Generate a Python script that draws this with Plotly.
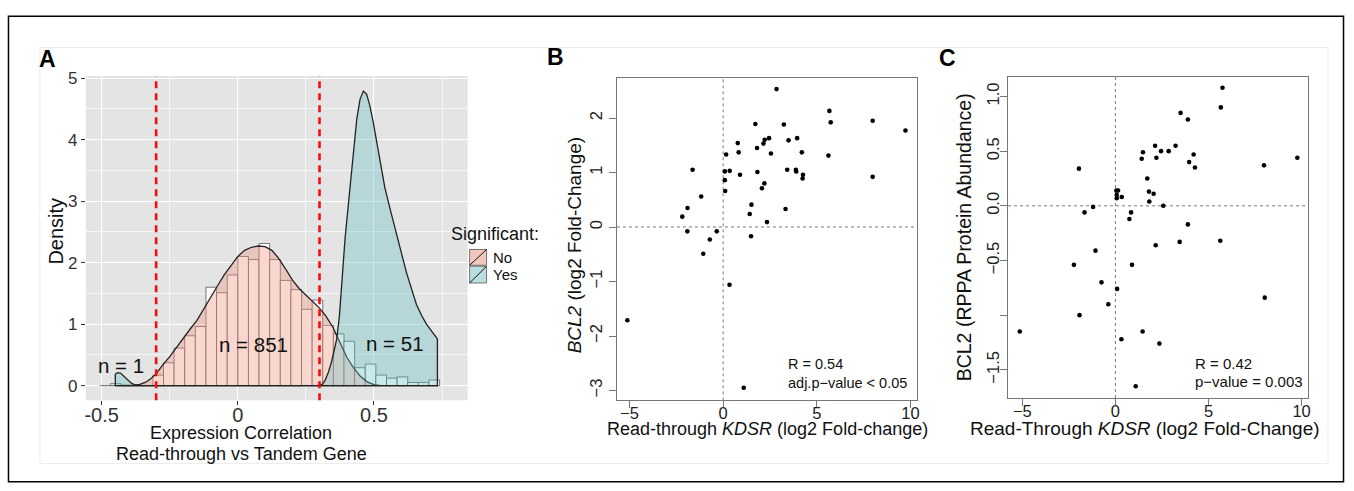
import plotly.graph_objects as go

W, H = 1354, 491
FONT = "Liberation Sans, Arial, sans-serif"

def fx(p):
    return p / W

def fy(p):
    return 1 - p / H

# ---------------- Panel A data ----------------
bin_left_edge = -0.468
bin_width = 0.039
hist_density = [0.03, 0, 0, 0, 0.17, 0.37, 0.61, 0.81, 0.96, 1.60, 1.51, 1.80, 2.10, 2.05,
                2.31, 2.05, 1.71, 1.56, 1.24, 1.39, 0.98, 0.84, 0.72, 0.29, 0.35, 0.17,
                0.12, 0.14, 0.05, 0.05, 0.09]
bin_centers = [bin_left_edge + bin_width * (k + 0.5) for k in range(len(hist_density))]

no_x = [-0.450, -0.400, -0.380, -0.360, -0.340, -0.320, -0.300, -0.275, -0.250, -0.225,
        -0.200, -0.175, -0.150, -0.125, -0.100, -0.075, -0.050, -0.025, 0.000, 0.025,
        0.050, 0.075, 0.100, 0.125, 0.150, 0.175, 0.200, 0.225, 0.250, 0.275, 0.300,
        0.325, 0.350, 0.375, 0.400, 0.425, 0.450, 0.475, 0.500, 0.525, 0.735]
no_y = [0.0, 0.0, 0.005, 0.02, 0.05, 0.11, 0.19, 0.34, 0.47, 0.62, 0.78, 0.92, 1.06,
        1.25, 1.45, 1.62, 1.80, 1.96, 2.10, 2.20, 2.25, 2.27, 2.26, 2.20, 2.07, 1.90,
        1.72, 1.58, 1.47, 1.37, 1.26, 1.12, 0.94, 0.70, 0.46, 0.29, 0.15, 0.06, 0.015,
        0.0, 0.0]

yes_x = [-0.450, -0.440, -0.430, -0.420, -0.410, -0.400, -0.390, -0.380, -0.370, -0.360,
         0.290, 0.300, 0.310, 0.320, 0.333, 0.345, 0.355, 0.363, 0.373, 0.382, 0.394,
         0.406, 0.418, 0.428, 0.437, 0.449, 0.461, 0.473, 0.485, 0.497, 0.510, 0.522,
         0.540, 0.559, 0.580, 0.600, 0.620, 0.638, 0.656, 0.675, 0.693, 0.711, 0.733]
yes_y = [0.19, 0.21, 0.20, 0.16, 0.11, 0.07, 0.035, 0.015, 0.004, 0.0,
         0.0, 0.004, 0.02, 0.08, 0.22, 0.40, 0.58, 0.75, 1.13, 1.67, 2.40,
         2.95, 3.50, 3.95, 4.34, 4.66, 4.79, 4.74, 4.55, 4.29, 3.97, 3.65,
         3.22, 2.88, 2.50, 2.17, 1.83, 1.56, 1.32, 1.14, 1.00, 0.89, 0.76]

cutoffs = [-0.3, 0.3]
n_labels = ["n = 1", "n = 851", "n = 51"]
n_label_x = [-0.43, 0.057, 0.577]
n_label_y = [0.32, 0.66, 0.68]

# ---------------- Panel B data ----------------
b_x = [2.85, 5.67, 5.74, 7.98, 9.73, 1.72, 3.24, 0.78, 0.83, 0.16, 1.81, 2.15, 2.22, 2.45,
       3.49, 3.95, 2.55, 4.20, 5.62, -1.63, 0.09, 0.35, 1.83, 3.42, 3.88, 3.90, 0.90, 4.26,
       4.24, 7.98, 0.09, 2.20, 2.07, 0.11, -1.17, 1.51, 1.42, 3.33, -1.90, -2.18, 2.34,
       -1.91, -0.34, 1.49, -0.71, -1.06, 0.34, -5.11, 1.10]
b_y = [2.53, 2.13, 1.92, 1.95, 1.77, 1.89, 1.88, 1.54, 1.37, 1.33, 1.45, 1.53, 1.60, 1.63,
       1.59, 1.63, 1.35, 1.37, 1.31, 1.05, 1.02, 1.03, 1.01, 1.05, 1.05, 1.02, 0.96, 0.96,
       0.89, 0.92, 0.86, 0.80, 0.71, 0.66, 0.56, 0.41, 0.24, 0.33, 0.35, 0.19, 0.09,
       -0.08, -0.08, -0.17, -0.23, -0.49, -1.06, -1.71, -2.95]

# ---------------- Panel C data ----------------
c_x = [5.75, 5.66, 3.50, 3.89, 2.13, 3.23, 1.48, 2.45, 2.86, 1.41, 2.20, 4.20, 3.96, 4.27,
       7.98, 9.77, -1.96, 1.71, 0.05, 0.14, 0.07, 0.34, 0.07, 1.80, 2.05, 1.82, 2.57,
       -1.20, -1.66, 0.84, 0.75, 3.89, 5.63, 2.16, 3.45, -1.07, -2.23, 0.89, -0.75, 0.09,
       8.02, -0.38, -1.93, -5.14, 1.46, 0.32, 2.36, 1.09]
c_y = [1.08, 0.90, 0.85, 0.79, 0.55, 0.55, 0.49, 0.50, 0.50, 0.43, 0.44, 0.47, 0.40, 0.35,
       0.37, 0.44, 0.34, 0.25, 0.14, 0.14, 0.10, 0.08, 0.07, 0.13, 0.11, 0.04, 0.00,
       -0.01, -0.06, -0.06, -0.12, -0.17, -0.32, -0.36, -0.33, -0.41, -0.54, -0.54, -0.70,
       -0.76, -0.84, -0.90, -1.00, -1.15, -1.15, -1.22, -1.26, -1.65]
c_yticks = [1.0, 0.5, 0.0, -0.5, -1.0, -1.5]
c_yticktext = ["1.0", "0.5", "0.0", "\u22120.5", "", "\u22121.5"]

fig = go.Figure()

# Panel A traces
fig.add_trace(go.Bar(
    x=bin_centers, y=hist_density, width=bin_width,
    marker=dict(color="white", line=dict(color="rgb(85,85,85)", width=0.8)),
    xaxis="x", yaxis="y", showlegend=False, hoverinfo="skip"))

fig.add_trace(go.Scatter(
    x=no_x + [no_x[-1], no_x[0], no_x[0]], y=no_y + [0, 0, no_y[0]],
    mode="lines", fill="toself", fillcolor="rgba(240,150,125,0.38)",
    line=dict(color="#222", width=1.3), xaxis="x", yaxis="y", showlegend=False))

fig.add_trace(go.Scatter(
    x=yes_x + [yes_x[-1], yes_x[0], yes_x[0]], y=yes_y + [0, 0, yes_y[0]],
    mode="lines", fill="toself", fillcolor="rgba(100,190,195,0.35)",
    line=dict(color="#222", width=1.3), xaxis="x", yaxis="y", showlegend=False))

# Panel B
fig.add_trace(go.Scatter(x=b_x, y=b_y, mode="markers",
                         marker=dict(color="black", size=4.6),
                         xaxis="x2", yaxis="y2", showlegend=False))
# Panel C
fig.add_trace(go.Scatter(x=c_x, y=c_y, mode="markers",
                         marker=dict(color="black", size=4.6),
                         xaxis="x3", yaxis="y3", showlegend=False))

tickfont_a_x = dict(family=FONT, size=20, color="#333")
tickfont_a_y = dict(family=FONT, size=17, color="#333")
tickfont_bc = dict(family=FONT, size=16.5, color="#222")

layout = dict(
    width=W, height=H,
    margin=dict(l=0, r=0, t=0, b=0, pad=0),
    paper_bgcolor="white", plot_bgcolor="rgba(0,0,0,0)",
    font=dict(family=FONT, color="#111"),
    showlegend=False,
    xaxis=dict(domain=[fx(85), fx(468)], range=[-0.5586, 0.844], anchor="y",
               tickmode="array", tickvals=[-0.5, 0, 0.5], ticktext=["-0.5", "0", "0.5"],
               tickfont=tickfont_a_x, ticks="outside", ticklen=4, tickcolor="#333",
               ticklabelstandoff=-7,
               showgrid=True, gridcolor="white", gridwidth=1.3, zeroline=False,
               showline=False,
               minor=dict(tickmode="array", tickvals=[-0.25, 0.25, 0.75], showgrid=True,
                          gridcolor="rgba(255,255,255,0.65)", gridwidth=0.7, ticks="")),
    yaxis=dict(domain=[fy(399), fy(70)], range=[-0.24, 5.036], anchor="x",
               tickmode="array", tickvals=[0, 1, 2, 3, 4, 5],
               tickfont=tickfont_a_y, ticks="outside", ticklen=4, tickcolor="#333",
               showgrid=True, gridcolor="white", gridwidth=1.3, zeroline=False,
               showline=False,
               minor=dict(tickmode="array", tickvals=[0.5, 1.5, 2.5, 3.5, 4.5], showgrid=True,
                          gridcolor="rgba(255,255,255,0.65)", gridwidth=0.7, ticks="")),
    xaxis2=dict(domain=[fx(617.7), fx(919)], range=[-5.67, 10.36], anchor="y2",
                tickmode="array", tickvals=[-5, 0, 5, 10], tickfont=tickfont_bc,
                ticks="outside", ticklen=7, tickcolor="#777", showgrid=False, zeroline=False,
                ticklabelstandoff=-9,
                showline=True, mirror=True, linecolor="#777", linewidth=1.2),
    yaxis2=dict(domain=[fy(399), fy(71.7)], range=[-3.18, 2.74], anchor="x2",
                tickmode="array", tickvals=[-3, -2, -1, 0, 1, 2], tickangle=-90,
                tickfont=tickfont_bc, ticks="outside", ticklen=7, tickcolor="#777",
                showgrid=False, zeroline=False,
                showline=True, mirror=True, linecolor="#777", linewidth=1.2),
    xaxis3=dict(domain=[fx(1010), fx(1311)], range=[-5.77, 10.35], anchor="y3",
                tickmode="array", tickvals=[-5, 0, 5, 10], tickfont=tickfont_bc,
                ticks="outside", ticklen=7, tickcolor="#777", showgrid=False, zeroline=False,
                ticklabelstandoff=-9,
                showline=True, mirror=True, linecolor="#777", linewidth=1.2),
    yaxis3=dict(domain=[fy(396.7), fy(70.7)], range=[-1.758, 1.181], anchor="x3",
                tickmode="array", tickvals=c_yticks, ticktext=c_yticktext, tickangle=-90,
                tickfont=tickfont_bc, ticks="outside", ticklen=7, tickcolor="#777",
                ticklabelstandoff=-6,
                showgrid=False, zeroline=False,
                showline=True, mirror=True, linecolor="#777", linewidth=1.2),
)
fig.update_layout(**layout)

shapes = []
# outer frame and faint inner frame
shapes.append(dict(type="rect", xref="paper", yref="paper", x0=fx(7.5), x1=fx(1346.5),
                   y0=fy(481.5), y1=fy(9.5), line=dict(color="black", width=1.5),
                   fillcolor="rgba(0,0,0,0)", layer="below"))
shapes.append(dict(type="rect", xref="paper", yref="paper", x0=fx(39), x1=fx(1331),
                   y0=fy(463), y1=fy(41), line=dict(color="rgb(236,236,236)", width=1),
                   fillcolor="rgba(0,0,0,0)", layer="below"))
# panel A background
shapes.append(dict(type="rect", xref="x domain", yref="y domain", x0=0, x1=1, y0=0, y1=1,
                   fillcolor="#E4E4E4", line=dict(width=0), layer="below"))
# baseline of histogram
shapes.append(dict(type="line", xref="x", yref="y", x0=bin_left_edge - bin_width,
                   x1=bin_left_edge + bin_width * len(hist_density), y0=0, y1=0,
                   line=dict(color="rgb(85,85,85)", width=0.8), layer="between"))
# red cutoffs
for c in cutoffs:
    shapes.append(dict(type="line", xref="x", yref="y domain", x0=c, x1=c, y0=0, y1=1,
                       line=dict(color="#F01010", width=2.6, dash="7px,5px"), layer="above"))
# dotted reference lines B, C
for xa, ya in (("x2", "y2"), ("x3", "y3")):
    shapes.append(dict(type="line", xref=xa, yref=ya + " domain", x0=0, x1=0, y0=0, y1=1,
                       line=dict(color="#777", width=1, dash="dot"), layer="below"))
    shapes.append(dict(type="line", xref=xa + " domain", yref=ya, x0=0, x1=1, y0=0, y1=0,
                       line=dict(color="#777", width=1, dash="dot"), layer="below"))
# legend keys for A
shapes.append(dict(type="rect", xref="paper", yref="paper", x0=fx(470), x1=fx(487),
                   y0=fy(262), y1=fy(246), fillcolor="rgb(240,200,190)",
                   line=dict(color="#555", width=0.8)))
shapes.append(dict(type="line", xref="paper", yref="paper", x0=fx(470), x1=fx(487),
                   y0=fy(262), y1=fy(246), line=dict(color="#111", width=1)))
shapes.append(dict(type="rect", xref="paper", yref="paper", x0=fx(470), x1=fx(487),
                   y0=fy(280), y1=fy(263), fillcolor="rgb(186,222,224)",
                   line=dict(color="#555", width=0.8)))
shapes.append(dict(type="line", xref="paper", yref="paper", x0=fx(470), x1=fx(487),
                   y0=fy(280), y1=fy(263), line=dict(color="#111", width=1)))
fig.update_layout(shapes=shapes)

ann = []

def add_text(text, x, y, size, xanchor="center", angle=0, bold=False, color="#111",
             xref="paper", yref="paper"):
    if bold:
        text = "<b>" + text + "</b>"
    ann.append(dict(text=text, x=x, y=y, xref=xref, yref=yref, showarrow=False,
                    xanchor=xanchor, yanchor="middle", textangle=angle,
                    font=dict(family=FONT, size=size, color=color)))

# panel letters
add_text("A", fx(47), fy(53), 23, bold=True, color="black")
add_text("B", fx(556.5), fy(51), 23, bold=True, color="black")
add_text("C", fx(949), fy(52), 23, bold=True, color="black")

# Panel A texts
add_text("Density", fx(55), fy(227), 20, angle=-90)
add_text("Expression Correlation", fx(241), fy(432), 18)
add_text("Read-through vs Tandem Gene", fx(241), fy(453), 18)
for t, xv, yv in zip(n_labels, n_label_x, n_label_y):
    add_text(t, xv, yv, 20.5, xref="x", yref="y")
add_text("Significant:", fx(449), fy(230), 18, xanchor="left")
add_text("No", fx(491), fy(254), 15, xanchor="left")
add_text("Yes", fx(491), fy(271), 15, xanchor="left")

# Panel B texts
add_text("Read-through <i>KDSR</i> (log2 Fold-change)", fx(769), fy(428), 18)
add_text("<i>BCL2</i> (log2 Fold-Change)", fx(575.5), fy(241), 19, angle=-90)
add_text("R = 0.54", fx(787), fy(362), 14.5, xanchor="left")
add_text("adj.p\u2212value < 0.05", fx(787), fy(381), 14.5, xanchor="left")

# Panel C texts
add_text("Read-Through <i>KDSR</i> (log2 Fold-Change)", fx(1147), fy(428), 19)
add_text("BCL2 (RPPA Protein Abundance)", fx(965.5), fy(234), 19.5, angle=-90)
add_text("R = 0.42", fx(1196), fy(362), 15, xanchor="left")
add_text("p\u2212value = 0.003", fx(1196), fy(380), 15, xanchor="left")

fig.update_layout(annotations=ann)

fig.write_html("out.html", config={"displayModeBar": False},
               post_script="document.body.style.margin='0px';document.body.style.overflow='hidden';")
